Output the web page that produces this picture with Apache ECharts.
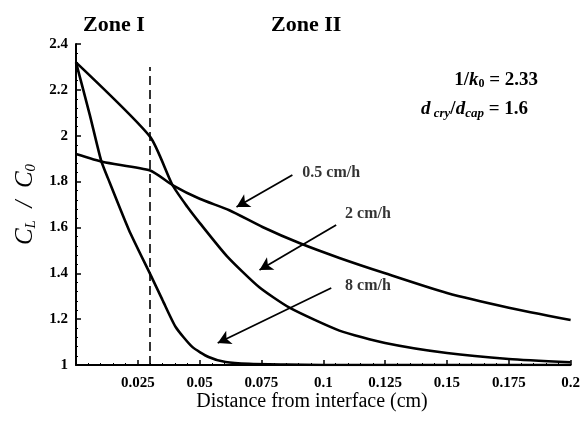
<!DOCTYPE html>
<html><head><meta charset="utf-8">
<script src="https://cdn.jsdelivr.net/npm/echarts@6/dist/echarts.min.js"></script>
<style>html,body{margin:0;padding:0;background:#fff}#c{width:583px;height:434px}</style>
</head><body><div id="c"></div>
<script>
// Data
const x05 = [0, 0.011, 0.03, 0.039, 0.05, 0.062, 0.0754, 0.0903, 0.1065, 0.125, 0.15, 0.175, 0.2];
const y05 = [1.92, 1.885, 1.848, 1.785, 1.725, 1.675, 1.602, 1.532, 1.467, 1.40, 1.314, 1.25, 1.196];
const x2 = [0, 0.03, 0.039, 0.045, 0.05, 0.061, 0.074, 0.0863, 0.1065, 0.125, 0.15, 0.175, 0.2];
const y2 = [2.32, 1.995, 1.785, 1.69, 1.62, 1.475, 1.34, 1.25, 1.15, 1.096, 1.052, 1.026, 1.012];
const x8 = [0, 0.0056, 0.0101, 0.0129, 0.0214, 0.0302, 0.035, 0.0403, 0.047, 0.0536, 0.0605, 0.07, 0.085, 0.1, 0.15, 0.2];
const y8 = [2.32, 2.09, 1.894, 1.815, 1.589, 1.392, 1.283, 1.166, 1.079, 1.035, 1.013, 1.005, 1.002, 1.0, 1.0, 1.0];
const zoneBoundary = 0.03;
const seriesNames = ['0.5 cm/h', '2 cm/h', '8 cm/h'];
// annotation arrows: [fromX, fromY, toX, toY] and label anchors [x, y]
const arrows = [[0.0875, 1.829, 0.0649, 1.689], [0.1052, 1.611, 0.0742, 1.414], [0.1032, 1.336, 0.0573, 1.096]];
const labelPos = [[0.0915, 1.838], [0.1088, 1.657], [0.1088, 1.345]];
const xTicks = ['0.025','0.05','0.075','0.1','0.125','0.15','0.175','0.2'];

const zip = (xs, ys) => xs.map((x, i) => [x, ys[i]]);
const serif = '"Liberation Serif", "DejaVu Serif", serif';
const lineStyle = {color: '#000', width: 2.6};

const chart = echarts.init(document.getElementById('c'));
const series = [x05, x2, x8].map((xs, k) => ({
  type: 'line', name: seriesNames[k], data: zip(xs, [y05, y2, y8][k]),
  showSymbol: false, smooth: 0.2, lineStyle, z: 3, silent: true
}));
series.push({
  type: 'line', data: [], silent: true,
  markLine: {
    silent: true, symbol: ['none', 'none'], label: {show: false},
    lineStyle: {color: '#000', type: [9, 5], width: 1.6},
    data: [[{coord: [zoneBoundary, 1]}, {coord: [zoneBoundary, 2.3]}]]
  }
});
series.push({
  type: 'line', data: [], silent: true,
  markLine: {
    silent: true, symbol: ['none', 'arrow'], symbolSize: [11, 13], label: {show: false},
    lineStyle: {color: '#000', type: 'solid', width: 1.8},
    data: arrows.map(a => [{coord: [a[0], a[1]]}, {coord: [a[2], a[3]]}])
  }
});
series.push({
  type: 'scatter', silent: true, symbolSize: 0,
  data: labelPos.map((p, i) => ({value: p, name: seriesNames[i]})),
  label: {show: true, position: 'right', distance: 0, formatter: p => p.name,
    fontFamily: serif, fontWeight: 'bold', fontSize: 16, color: '#000'}
});

chart.setOption({
  animation: false,
  grid: {left: 76, right: 11, top: 44, bottom: 69},
  xAxis: {
    type: 'value', min: 0, max: 0.2, interval: 0.025,
    axisLine: {lineStyle: {color: '#000', width: 2}},
    axisTick: {inside: true, length: 5, lineStyle: {color: '#000', width: 1.5}},
    minorTick: {show: true, splitNumber: 5, length: 2, lineStyle: {color: '#000'}},
    splitLine: {show: false},
    axisLabel: {margin: 11, fontFamily: serif, fontWeight: 'bold', fontSize: 15, color: '#000',
      formatter: v => { const s = xTicks.find(t => Math.abs(parseFloat(t) - v) < 1e-9); return s || ''; }}
  },
  yAxis: {
    type: 'value', min: 1, max: 2.4, interval: 0.2,
    axisLine: {show: true, lineStyle: {color: '#000', width: 2}},
    axisTick: {show: true, inside: true, length: 5, lineStyle: {color: '#000', width: 1.5}},
    minorTick: {show: true, splitNumber: 5, length: 2, lineStyle: {color: '#000'}},
    splitLine: {show: false},
    axisLabel: {margin: 8, fontFamily: serif, fontWeight: 'bold', fontSize: 15, color: '#000',
      formatter: v => String(Math.round(v * 10) / 10)},
    name: '{i|C}{s|L}{i|  /  C}{s|0}', nameLocation: 'middle', nameGap: 33, nameRotate: 90,
    nameTextStyle: {rich: {
      i: {fontFamily: serif, fontStyle: 'italic', fontSize: 25, color: '#000'},
      s: {fontFamily: serif, fontStyle: 'italic', fontSize: 15, color: '#000', verticalAlign: 'bottom', padding: [10, 0, 0, 0]}
    }}
  },
  graphic: [
    {type: 'text', left: 83, top: 14, style: {text: 'Zone I', font: 'bold 22px ' + serif, fill: '#000'}},
    {type: 'text', left: 271, top: 14, style: {text: 'Zone II', font: 'bold 22px ' + serif, fill: '#000'}},
    {type: 'text', x: 312, y: 402, style: {text: 'Distance from interface (cm)', font: '20px ' + serif, fill: '#000', align: 'center', verticalAlign: 'middle'}},
    {type: 'text', right: 45, top: 71, style: {
      text: '{b|1/}{bi|k}{sub|0}{b| = 2.33}',
      rich: {b: {fontFamily: serif, fontWeight: 'bold', fontSize: 19, fill: '#000'},
             bi: {fontFamily: serif, fontWeight: 'bold', fontStyle: 'italic', fontSize: 19, fill: '#000'},
             sub: {fontFamily: serif, fontWeight: 'bold', fontSize: 12, fill: '#000', padding: [7, 0, 0, 0]}}}},
    {type: 'text', right: 55, top: 100, style: {
      text: '{bi|d}{sub| cry}{b|/}{bi|d}{sub|cap}{b| = 1.6}',
      rich: {b: {fontFamily: serif, fontWeight: 'bold', fontSize: 19, fill: '#000'},
             bi: {fontFamily: serif, fontWeight: 'bold', fontStyle: 'italic', fontSize: 19, fill: '#000'},
             sub: {fontFamily: serif, fontWeight: 'bold', fontStyle: 'italic', fontSize: 13, fill: '#000', padding: [8, 0, 0, 0]}}}}
  ],
  series
});
</script></body></html>
